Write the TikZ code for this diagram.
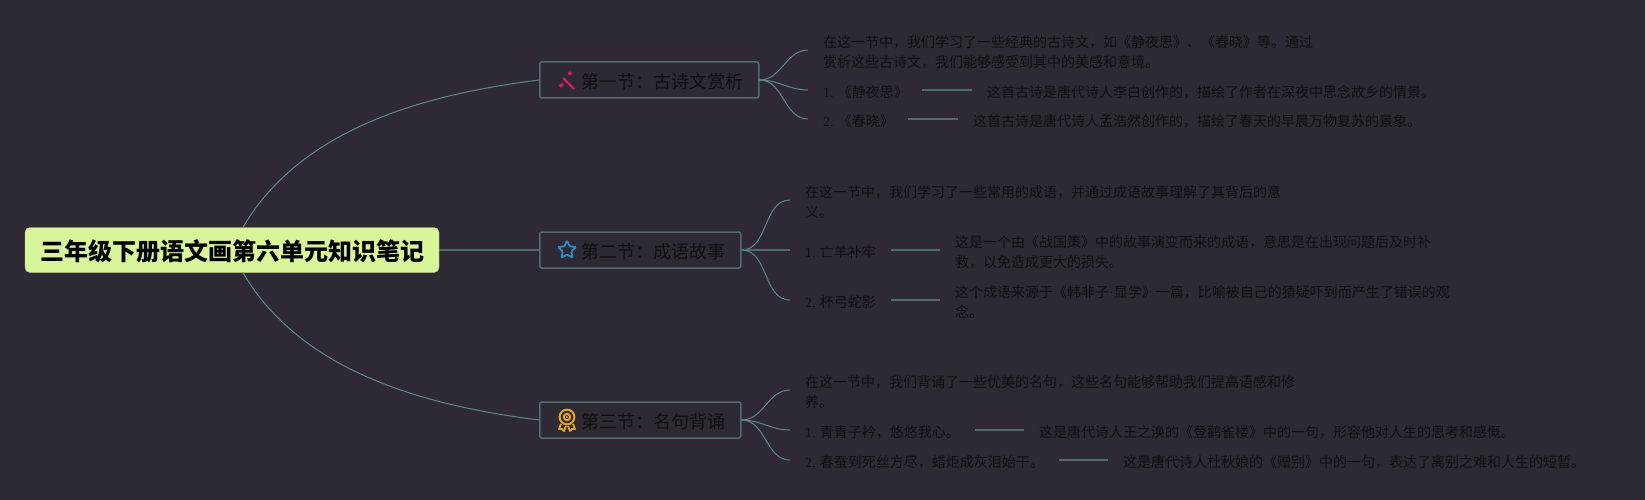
\documentclass[tikz,border=0pt]{standalone}
\usepackage{fontspec}
\setmainfont{Noto Sans CJK SC}
\newfontfamily\numfont{Liberation Serif}
\usetikzlibrary{shapes.geometric}
\definecolor{bgdark}{HTML}{2E2933}
\definecolor{linkgreen}{HTML}{5F8A8C}
\definecolor{boxgreen}{HTML}{4F6C70}
\definecolor{rootlime}{HTML}{D9F59A}
\definecolor{inkdark}{HTML}{101010}
\definecolor{wandred}{HTML}{D81B5A}
\definecolor{starblue}{HTML}{2A8CCB}
\definecolor{medalgold}{HTML}{E0A52C}
\tikzset{
  rootbox/.style={draw=rootlime!85!black,fill=rootlime,rounded corners=5pt,text=black,minimum width=414pt,minimum height=45pt,inner sep=0pt,text height=21pt,text depth=0pt,font=\fontsize{24}{28}\selectfont\bfseries},
  secbox/.style={draw=boxgreen,line width=1.5pt,rounded corners=2pt,text=inkdark,minimum height=36pt,inner sep=0pt,anchor=west,align=left,text height=17.5pt,text depth=0pt,font=\fontsize{18}{22}\selectfont},
  leaf/.style={text=inkdark,anchor=west,inner xsep=15pt,inner ysep=0pt,align=left,font=\fontsize{14}{20}\selectfont},
  thin link/.style={draw=linkgreen,line width=1pt},
  flat link/.style={draw=boxgreen,line width=1.5pt},
}
\newcommand{\num}[1]{{\numfont #1}}
\begin{document}
\begin{tikzpicture}[x=1pt,y=-1pt]
\useasboundingbox (0,0) rectangle (1645,500);
\fill[bgdark] (0,0) rectangle (1645,500);
\node[rootbox] (root) at (232,250) {三年级下册语文画第六单元知识笔记};
\node[secbox,text width=219pt] (secone) at (539,80) {\hspace*{42pt}第一节：古诗文赏析};
\node[secbox,text width=201pt] (sectwo) at (539,250) {\hspace*{42pt}第二节：成语故事};
\node[secbox,text width=201pt] (secthree) at (539,420) {\hspace*{42pt}第三节：名句背诵};
\draw[thin link] ([xshift=11pt]root.north) .. controls (300,130) and (420,95) .. (secone.west);
\draw[flat link] (root.east) -- (sectwo.west);
\draw[thin link] ([xshift=11pt]root.south) .. controls (300,370) and (420,405) .. (secthree.west);
% first section
\node[leaf] (introone) at (808,52) {在这一节中，我们学习了一些经典的古诗文，如《静夜思》、《春晓》等。通过\\赏析这些古诗文，我们能够感受到其中的美感和意境。};
\node[leaf] (poemone) at (808,92) {\num{1.} 《静夜思》};
\node[leaf] (poemtwo) at (808,121) {\num{2.} 《春晓》};
\node[leaf] (poemonetext) at (972,92) {这首古诗是唐代诗人李白创作的，描绘了作者在深夜中思念故乡的情景。};
\node[leaf] (poemtwotext) at (958,121) {这首古诗是唐代诗人孟浩然创作的，描绘了春天的早晨万物复苏的景象。};
\draw[thin link] (secone.east) to[out=0,in=180] ([yshift=2pt]introone.west);
\draw[thin link] (secone.east) to[out=0,in=180] ([yshift=2pt]poemone.west);
\draw[thin link] (secone.east) to[out=0,in=180] ([yshift=2pt]poemtwo.west);
\draw[flat link] (922,90) -- ([yshift=2pt]poemonetext.west);
\draw[flat link] (908,119) -- ([yshift=2pt]poemtwotext.west);
% second section
\node[leaf] (introtwo) at (790,202) {在这一节中，我们学习了一些常用的成语，并通过成语故事理解了其背后的意\\义。};
\node[leaf] (idiomone) at (790,252) {\num{1.} 亡羊补牢};
\node[leaf] (idiomtwo) at (790,302) {\num{2.} 杯弓蛇影};
\node[leaf] (idiomonetext) at (940,252) {这是一个由《战国策》中的故事演变而来的成语，意思是在出现问题后及时补\\救，以免造成更大的损失。};
\node[leaf] (idiomtwotext) at (940,302) {这个成语来源于《韩非子\num{·}显学》一篇，比喻被自己的猜疑吓到而产生了错误的观\\念。};
\draw[thin link] (sectwo.east) to[out=0,in=180] ([yshift=2pt]introtwo.west);
\draw[flat link] (sectwo.east) -- ([yshift=2pt]idiomone.west);
\draw[thin link] (sectwo.east) to[out=0,in=180] ([yshift=2pt]idiomtwo.west);
\draw[flat link] ([yshift=2pt]idiomone.east) -- ([yshift=2pt]idiomonetext.west);
\draw[flat link] ([yshift=2pt]idiomtwo.east) -- ([yshift=2pt]idiomtwotext.west);
% third section
\node[leaf] (introthree) at (790,392) {在这一节中，我们背诵了一些优美的名句，这些名句能够帮助我们提高语感和修\\养。};
\node[leaf] (lineone) at (790,432) {\num{1.} 青青子衿，悠悠我心。};
\node[leaf] (linetwo) at (790,462) {\num{2.} 春蚕到死丝方尽，蜡炬成灰泪始干。};
\node[leaf] (lineonetext) at (1024,432) {这是唐代诗人王之涣的《登鹳雀楼》中的一句，形容他对人生的思考和感慨。};
\node[leaf] (linetwotext) at (1108,462) {这是唐代诗人杜秋娘的《赠别》中的一句，表达了离别之难和人生的短暂。};
\draw[thin link] (secthree.east) to[out=0,in=180] ([yshift=2pt]introthree.west);
\draw[thin link] (secthree.east) to[out=0,in=180] ([yshift=2pt]lineone.west);
\draw[thin link] (secthree.east) to[out=0,in=180] ([yshift=2pt]linetwo.west);
\draw[flat link] ([yshift=2pt]lineone.east) -- ([yshift=2pt]lineonetext.west);
\draw[flat link] ([yshift=2pt]linetwo.east) -- ([yshift=2pt]linetwotext.west);
% icons
\draw[wandred,line width=2.4pt] (563,78) -- (574,89);
\draw[wandred,line width=3pt] (559.5,86.5) -- (563,84);
\fill[wandred] (570,73.5) circle (2pt);
\node[draw=starblue,line width=1.8pt,star,star points=5,star point ratio=2.1,minimum size=19pt,inner sep=0pt,rounded corners=1pt] (staricon) at (567,250) {};
\draw[medalgold,line width=2pt] (567,417) circle (7.4pt) (567,417) circle (3.2pt);
\fill[medalgold] (567,417) circle (1.2pt);
\draw[medalgold,line width=1.8pt,line join=round] (561,424) -- (559,429) -- (562,429) -- (564,431) -- (566,426);
\draw[medalgold,line width=1.8pt,line join=round] (573,424) -- (575,429) -- (572,429) -- (570,431) -- (568,426);
\end{tikzpicture}
\end{document}
